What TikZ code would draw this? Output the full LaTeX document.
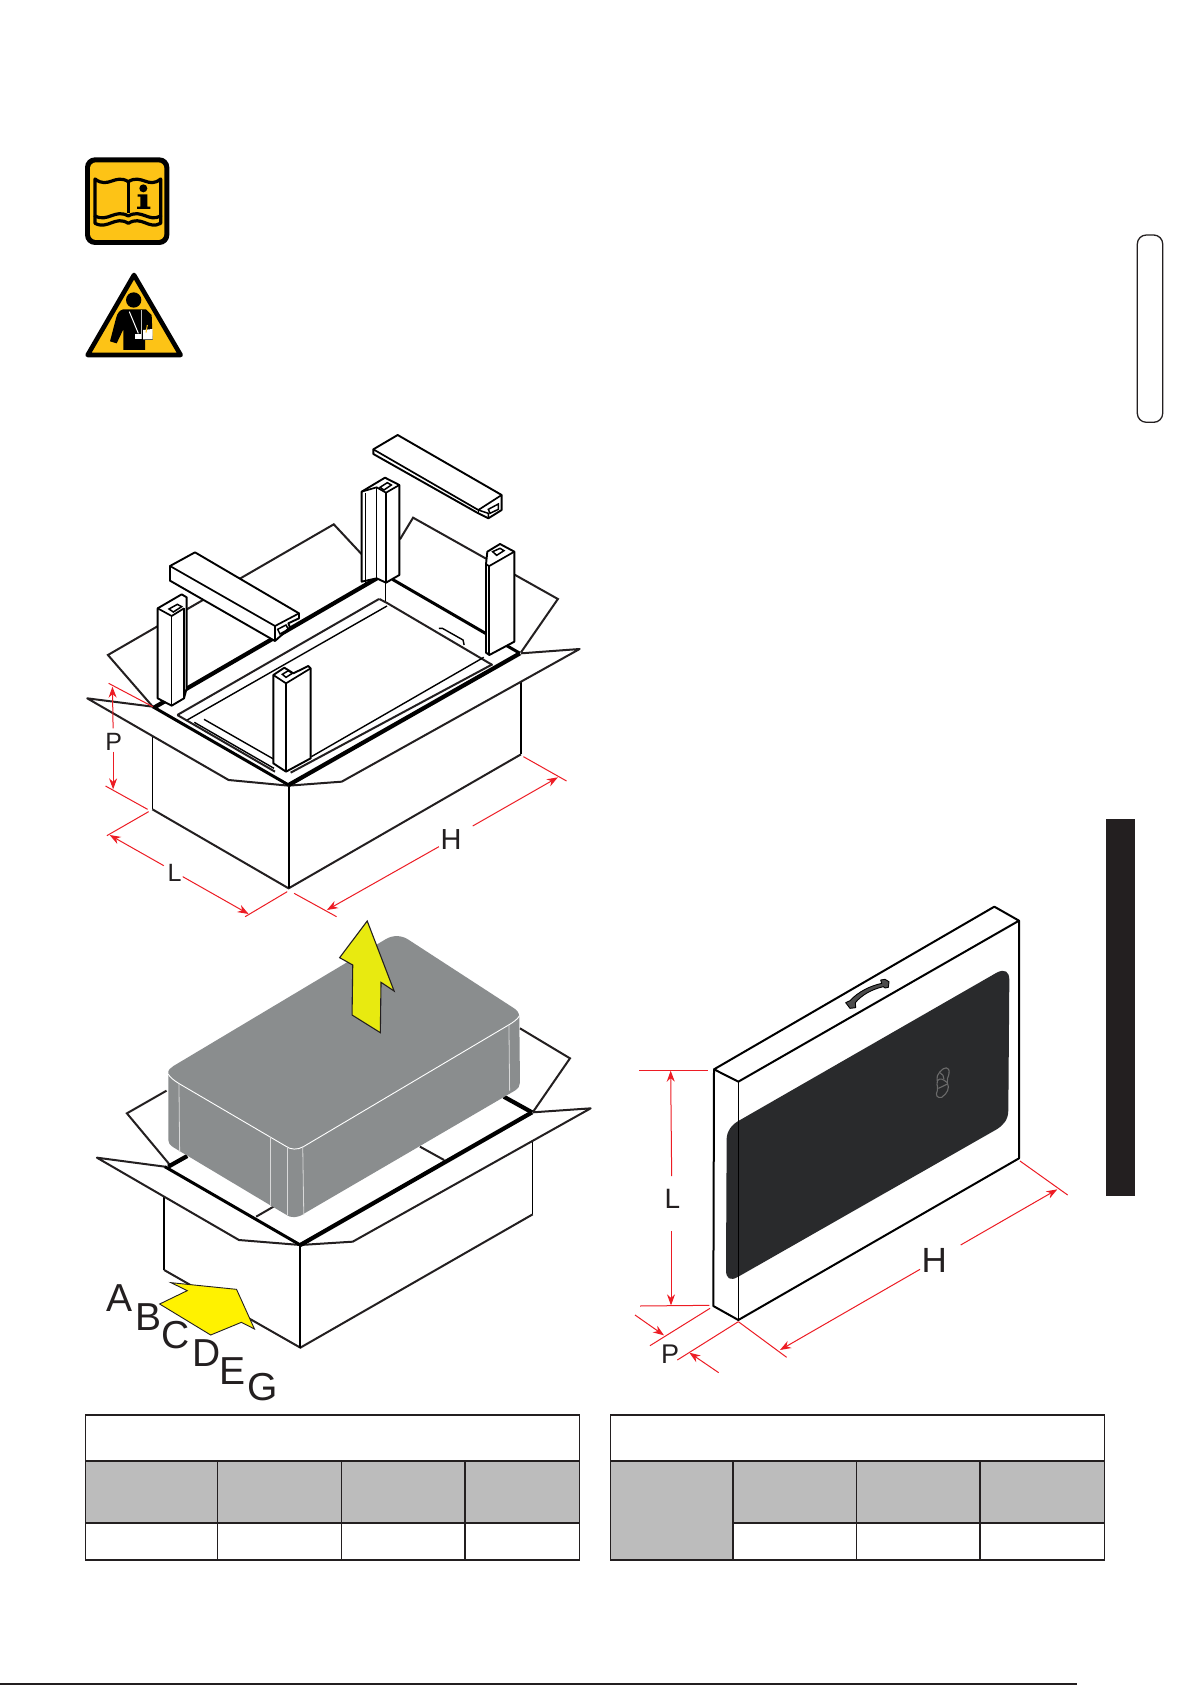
\documentclass[tikz,border=0pt]{standalone}
\usepackage{fontspec}
\setmainfont{Liberation Sans}
\usetikzlibrary{arrows.meta}
\definecolor{ink}{HTML}{231F20}
\definecolor{dimred}{HTML}{ED1C24}
\definecolor{warnyel}{HTML}{FDC316}
\definecolor{upyel}{HTML}{E8EA10}
\definecolor{sideyel}{HTML}{FFF200}
\definecolor{blockgrey}{HTML}{8A8D8E}
\definecolor{tabgrey}{HTML}{BCBCBC}
\definecolor{panel}{HTML}{292A2C}
\tikzset{
  zA/.style={shift={(70pt,-420pt)},x=0.3448pt,y=-0.33333pt},
  zB/.style={shift={(70pt,-920pt)},x=0.3448pt,y=-0.33333pt},
  zC/.style={shift={(620pt,-900pt)},x=0.33333pt,y=-0.33333pt},
  zD/.style={shift={(840pt,-960pt)},x=0.33333pt,y=-0.33333pt},
  zIcon/.style={shift={(60pt,-130pt)},x=0.33333pt,y=-0.33333pt},
  zNine/.style={shift={(360pt,-430pt)},x=0.33333pt,y=-0.33333pt},
  zTen/.style={shift={(100pt,-540pt)},x=0.33333pt,y=-0.33333pt},
  zTab/.style={shift={(60pt,-1410pt)},x=0.688pt,y=-0.33333pt},
  lnT/.style={draw=black,line width=0.9pt},
  lnA/.style={draw=black,line width=1.4pt,line join=miter},
  lnB/.style={draw=ink,line width=2pt,line join=miter},
  lnC/.style={draw=black,line width=3pt},
  lnD/.style={draw=black,line width=4.2pt},
  dimline/.style={draw=dimred,line width=1pt},
  dimarr/.style={draw=dimred,line width=1pt,-{Stealth[length=11pt,width=8pt]}},
  lett/.style={text=ink,inner sep=0pt,font=\fontsize{#1}{#1}\selectfont},
  partfill/.style={fill=white,draw=black,line width=1.9pt,line join=round},
  tabline/.style={draw=ink,line width=1.5pt},
  tabedge/.style={draw=ink,line width=1.8pt}
}
\begin{document}
\begin{tikzpicture}[x=1pt,y=-1pt]
\useasboundingbox (0,0) rectangle (1192,1685);
\fill[white] (0,0) rectangle (1192,1685);

% ---------- icons
\begin{scope}[zIcon]
  \fill[black,rounded corners=10pt] (75,82) rectangle (328,345);
  \fill[warnyel,rounded corners=6pt] (90,97) rectangle (313,330);
  \draw[black,line width=3.2pt,line join=round]
    (105,147) .. controls (145,178) and (165,130) .. (205,155)
    .. controls (245,130) and (265,178) .. (302,147)
    -- (302,258) .. controls (265,278) and (245,235) .. (205,258)
    .. controls (165,235) and (145,278) .. (105,258) -- cycle;
  \draw[black,line width=3pt] (205,155) -- (205,250);
  \draw[black,line width=3.2pt,line join=round]
    (105,258) -- (105,280) .. controls (145,300) and (165,255) .. (205,280)
    .. controls (245,255) and (265,300) .. (302,280) -- (302,258);
  \fill[black] (250,175) circle[radius=12];
  \fill[black] (233,193) -- (262,193) -- (262,230) -- (271,230) -- (271,237) -- (231,237) -- (231,230) -- (241,230) -- (241,200) -- (233,200) -- cycle;
  % warning triangle
  \draw[black,fill=warnyel,line width=4.6pt,line join=round] (222,435) -- (362,675) -- (83,675) -- cycle;
  \fill[black] (221,510) circle[radius=23];
  \fill[black] (190,538) -- (258,538) -- (275,555) -- (278,630) -- (255,630) -- (255,660) -- (190,660) -- (190,598) -- (170,640) -- (150,634) -- (168,565) .. controls (172,548) and (180,540) .. (190,538) -- cycle;
  \draw[white,line width=1pt] (208,545) -- (235,610);
  \draw[white!75!black,line width=1.2pt] (245,540) -- (245,628);
  \fill[white] (225,612) -- (243,612) -- (243,628) -- (225,628) -- cycle;
  \fill[white] (249,600) -- (278,597) -- (278,628) -- (249,628) -- cycle;
  \draw[warnyel,line width=1pt] (262,585) -- (258,608);
\end{scope}

% ---------- right-hand tab and bar
\draw[draw=ink,line width=1.3pt,rounded corners=9pt] (1137.3,235) rectangle (1162.7,422.3);
\fill[ink] (1106,819) rectangle (1135,1196);

% ---------- upper box
\begin{scope}[zA]
  % back flaps
  \draw[lnB] (240,860) -- (110,705) -- (765,313) -- (848,405);
  \draw[lnB] (957,358) -- (995,293) -- (1415,537) -- (1308,697);
  % inner folds
  \draw[lnD] (245,862) -- (890,475);
  \draw[lnC] (935,478) -- (1305,700);
  \draw[lnT] (914,488) -- (914,545);
  % tray
  \draw[lnA] (1070,625) -- (1080,625) -- (1140,660) -- (1143,675);
  \draw[lnB] (897,537) -- (918,548) -- (1225,735);
  \draw[lnB] (640,1058) -- (1225,733);
  \draw[lnA] (700,1010) -- (1200,712);
  % carton
  \draw[lnA] (239,945) -- (239,1168);
  \draw[lnB] (239,1168) -- (634,1405) -- (1308,1003);
  \draw[lnA] (1308,1003) -- (1308,785);
  \draw[lnB,draw=black] (634,1095) -- (634,1405);
  \draw[lnB,line join=round] (240,860) -- (50,835) -- (460,1080) -- (634,1097);
  \draw[lnB,line join=round] (634,1097) -- (788,1085) -- (1478,687) -- (1308,700);
  \draw[lnC] (240,860) -- (634,1095);
  \draw[lnD] (634,1095) -- (1305,700);
  % dimensions
  \draw[dimline] (112,790) -- (240,860);
  \draw[dimline] (103,1098) -- (225,1168);
  \draw[dimarr] (125,925) -- (123,800);
  \draw[dimarr] (125,995) -- (125,1108);
  \draw[dimline] (228,1175) -- (107,1247);
  \draw[dimarr] (272,1337) -- (115,1245);
  \draw[dimarr] (327,1370) -- (518,1482);
  \draw[dimline] (508,1490) -- (630,1415);
  \draw[dimline] (650,1420) -- (773,1490);
  \draw[dimarr] (1070,1280) -- (745,1470);
  \draw[dimarr] (1168,1218) -- (1415,1072);
  \draw[dimline] (1315,1010) -- (1440,1083);
  \node[lett=25pt] (labP1) at (127,966) {P};
  \node[lett=25pt] (labL1) at (303,1358) {L};
  \node[lett=29pt] (labH1) at (1105,1258) {H};
\end{scope}

% beam far right
\begin{scope}[zNine]
  \draw[partfill] (40,58) -- (113,15) -- (425,195) -- (425,240) -- (385,265) -- (355,250) -- (40,72) -- cycle;
  \draw[black,line width=1.7pt] (40,58) -- (355,240) -- (425,195);
  \draw[black,line width=1.5pt] (355,240) -- (355,250);
  \draw[black,line width=1.5pt] (355,240) -- (385,250) -- (385,265);
  \draw[black,line width=1.5pt] (385,238) -- (415,222) -- (415,238) -- (390,250) -- cycle;
  % back leg
  \draw[partfill] (5,185) -- (75,143) -- (118,165) -- (118,435) -- (78,458) -- (50,445) -- (5,455) -- cycle;
  \draw[black,line width=1.2pt] (16,190) -- (16,458);
  \draw[black,line width=1.2pt] (50,172) -- (50,445);
  \draw[black,line width=2pt] (78,188) -- (78,458);
  \draw[black,line width=1.7pt] (5,185) -- (50,172) -- (78,188) -- (118,165);
  \draw[black,line width=1.5pt] (60,172) -- (82,158) -- (94,165) -- (72,180) -- cycle;
  % right leg
  \draw[partfill] (378,403) -- (382,365) -- (420,342) -- (463,365) -- (463,635) -- (388,675) -- (378,668) -- cycle;
  \draw[black,line width=1.7pt] (378,403) -- (388,408) -- (463,365);
  \draw[black,line width=2pt] (388,408) -- (388,675);
  \draw[black,line width=1.5pt] (398,365) -- (420,355) -- (432,362) -- (410,376) -- cycle;
\end{scope}

\begin{scope}[zTen]
  % tray, left part
  \draw[lnB] (232,525) -- (837,177);
  \draw[lnA] (258,542) -- (861,198);
  \draw[lnB] (232,525) -- (525,695);
  \draw[lnA] (283,547) -- (522,685);
  \draw[lnA] (312,538) -- (522,658);
  % left beam
  \draw[partfill] (210,78) -- (285,37) -- (597,220) -- (597,235) -- (565,250) -- (570,262) -- (525,303) -- (210,122) -- cycle;
  \draw[black,line width=1.7pt] (210,78) -- (525,258) -- (597,220);
  \draw[black,line width=1.7pt] (525,258) -- (525,303);
  \draw[black,line width=1.5pt] (533,268) -- (558,255) -- (565,268) -- (540,282) -- cycle;
  % left leg
  \draw[partfill] (173,205) -- (245,163) -- (260,172) -- (260,445) -- (252,475) -- (215,497) -- (173,475) -- cycle;
  \draw[black,line width=1.7pt] (173,205) -- (215,228) -- (252,205);
  \draw[black,line width=1.4pt] (215,228) -- (215,497);
  \draw[black,line width=1.4pt] (252,205) -- (252,475);
  \draw[black,line width=1.5pt] (207,207) -- (232,193) -- (245,200) -- (220,216) -- cycle;
  % front leg
  \draw[partfill] (520,405) -- (553,383) -- (580,400) -- (625,378) -- (632,385) -- (632,655) -- (558,695) -- (520,670) -- cycle;
  \draw[black,line width=1.7pt] (520,405) -- (558,430) -- (632,385);
  \draw[black,line width=2pt] (558,430) -- (558,695);
  \draw[black,line width=1.5pt] (547,403) -- (565,392) -- (577,400) -- (558,412) -- cycle;
\end{scope}

% ---------- lower box
\begin{scope}[zB]
  \draw[lnB] (280,512) -- (165,580) -- (290,735);
  \draw[lnB] (1305,325) -- (1450,415) -- (1342,577);
  \draw[lnD] (285,740) -- (340,708);
  \draw[lnD] (1258,530) -- (1340,577);
  \draw[lnB] (540,890) -- (590,860);
  \draw[lnB] (1015,680) -- (1085,720);
  \draw[lnA] (273,830) -- (273,1050);
  \draw[lnB] (273,1050) -- (668,1283) -- (1342,883);
  \draw[lnA] (1342,883) -- (1342,660);
  \draw[lnB,draw=black] (668,975) -- (668,1283);
  \draw[lnB,line join=round] (275,740) -- (78,713) -- (490,960) -- (668,975);
  \draw[lnB,line join=round] (668,975) -- (820,965) -- (1510,565) -- (1342,577);
  \draw[lnC] (275,740) -- (668,975);
  \draw[lnD] (668,975) -- (1340,577);
  % grey block
  \fill[blockgrey] (285,462) .. controls (283,450) and (292,443) .. (300,438) -- (915,58)
    .. controls (935,45) and (960,45) .. (980,58) -- (1285,263)
    .. controls (1297,270) and (1302,278) .. (1303,290) -- (1305,488)
    .. controls (1305,498) and (1300,505) .. (1290,512) -- (680,880)
    .. controls (660,895) and (640,895) .. (625,883) -- (300,682)
    .. controls (290,675) and (285,670) .. (285,660) -- cycle;
  \draw[white,line width=0.9pt] (285,462) .. controls (290,472) and (300,480) .. (315,490) -- (625,678)
    .. controls (640,690) and (660,690) .. (677,680) -- (1272,315) .. controls (1285,307) and (1298,298) .. (1303,288);
  \draw[white!85!black,line width=0.8pt] (316,490) -- (318,695);
  \draw[white!85!black,line width=0.8pt] (1273,315) -- (1275,512);
  \draw[white!85!black,line width=0.8pt] (580,650) -- (580,855);
  \draw[white!85!black,line width=0.8pt] (630,680) -- (630,885);
  \draw[white!85!black,line width=0.8pt] (675,680) -- (678,885);
  % yellow arrows
  \draw[fill=upyel,draw=ink,line width=1.1pt,line join=miter] (862,3) -- (940,213) -- (902,187) -- (900,338) -- (818,285) -- (820,135) -- (782,113) -- cycle;
  \draw[fill=sideyel,draw=ink,line width=0.9pt,line join=miter] (293,1088) -- (483,1108) -- (535,1227) -- (497,1207) -- (408,1245) -- (260,1152) -- (340,1112) -- cycle;
  \node[lett=39pt] (labA) at (143,1133) {A};
  \node[lett=39pt] (labB) at (228,1190) {B};
  \node[lett=39pt] (labC) at (307,1245) {C};
  \node[lett=39pt] (labD) at (395,1298) {D};
  \node[lett=39pt] (labE) at (472,1352) {E};
  \node[lett=39pt] (labG) at (558,1402) {G};
\end{scope}

% ---------- panel on the right
\begin{scope}[zC]
  \draw[lnB,draw=black,line join=round] (282,508) -- (1123,20) -- (1197,62) -- (355,545) -- cycle;
  \draw[lnB,draw=black,line join=round] (282,508) -- (280,1218) -- (355,1260) -- (1197,775) -- (1197,62);
  \fill[panel] (320,715) .. controls (322,690) and (335,675) .. (355,663) -- (1130,218)
    .. controls (1155,205) and (1168,215) .. (1168,240) -- (1165,630)
    .. controls (1165,660) and (1150,675) .. (1130,688) -- (355,1130)
    .. controls (330,1145) and (318,1135) .. (318,1110) -- cycle;
  \draw[black,line width=1.5pt] (355,545) -- (355,1260);
  \draw[dimline] (57,510) -- (263,510);
  \draw[dimline] (60,1218) -- (268,1216);
  \draw[dimarr] (155,828) -- (152,512);
  \draw[dimarr] (153,993) -- (153,1216);
  \draw[dimarr] (45,1245) -- (132,1306);
  \draw[dimline] (90,1337) -- (270,1225);
  \draw[dimline] (172,1380) -- (355,1265);
  \draw[dimarr] (296,1418) -- (208,1358);
  \draw[dimline] (355,1265) -- (500,1372);
  \draw[dimarr] (900,1108) -- (480,1350);
  \draw[dimarr] (1022,1035) -- (1312,868);
  \draw[dimline] (1200,783) -- (1343,885);
  \node[lett=28pt] (labL2) at (157,898) {L};
  \node[lett=27pt] (labP2) at (150,1363) {P};
  \node[lett=35pt] (labH2) at (943,1082) {H};
\end{scope}

% handle and logo
\begin{scope}[zD]
  \draw[fill=black!70,draw=black,line width=0.9pt,line join=round]
    (17,128) -- (30,122) .. controls (55,95) and (90,78) .. (125,70) -- (122,60) -- (135,58)
    -- (147,65) -- (145,82) -- (135,84) -- (130,80) .. controls (95,88) and (65,105) .. (46,128)
    -- (47,143) -- (30,145) -- cycle;
  \draw[draw=black!58,line width=1.1pt,line join=round]
    (300,335) .. controls (312,320) and (330,318) .. (327,340)
    .. controls (326,352) and (318,358) .. (322,368)
    .. controls (330,385) and (322,400) .. (305,412)
    .. controls (292,416) and (285,405) .. (292,392)
    .. controls (297,382) and (288,378) .. (292,365)
    .. controls (290,350) and (292,342) .. (300,335) -- cycle;
  \draw[draw=black!58,line width=1.1pt] (292,362) .. controls (300,352) and (310,358) .. (322,368);
  \draw[draw=black!58,line width=1.1pt] (295,385) .. controls (305,380) and (312,378) .. (322,372);
  \draw[draw=black!58,line width=1.1pt] (300,338) .. controls (308,343) and (312,348) .. (312,358);
\end{scope}

% ---------- tables
\begin{scope}[zTab]
  \fill[tabgrey] (37,152) rectangle (755,338);
  \draw[tabedge] (37,15) rectangle (755,450);
  \draw[tabedge] (37,152) -- (755,152);
  \draw[tabedge] (37,338) -- (755,338);
  \foreach \vx in {229,409,589} \draw[tabline] (\vx,152) -- (\vx,450);
  \fill[tabgrey] (800,152) rectangle (978,450);
  \fill[tabgrey] (978,152) rectangle (1518,338);
  \draw[tabedge] (800,15) rectangle (1518,450);
  \draw[tabedge] (800,152) -- (1518,152);
  \draw[tabedge] (978,338) -- (1518,338);
  \foreach \vx in {978,1158,1337} \draw[tabline] (\vx,152) -- (\vx,450);
\end{scope}
\draw[ink,line width=1.2pt] (0,1684) -- (1077,1684);
\end{tikzpicture}
\end{document}
